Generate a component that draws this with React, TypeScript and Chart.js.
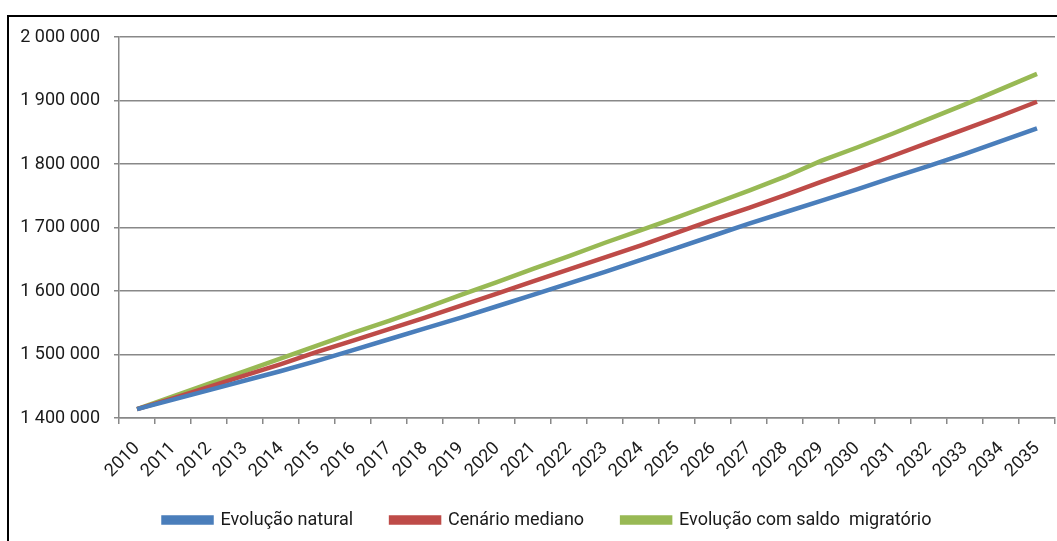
import React, { useEffect, useRef } from 'react';
import { Chart, registerables } from 'chart.js';

Chart.register(...registerables);

const years = [
  '2010', '2011', '2012', '2013', '2014', '2015', '2016', '2017', '2018', '2019',
  '2020', '2021', '2022', '2023', '2024', '2025', '2026', '2027', '2028', '2029',
  '2030', '2031', '2032', '2033', '2034', '2035',
];

const evolucaoNatural = [
  1414000, 1429000, 1444000, 1459000, 1474000, 1490000, 1507000, 1524000, 1541000, 1558000,
  1576000, 1594000, 1612000, 1630000, 1649000, 1668000, 1687000, 1706000, 1724000, 1742000,
  1760000, 1779000, 1797000, 1816000, 1836000, 1856000,
];

const cenarioMediano = [
  1414000, 1431000, 1449000, 1467000, 1485000, 1504000, 1522000, 1540000, 1558000, 1577000,
  1596000, 1615000, 1634000, 1653000, 1672000, 1692000, 1712000, 1731000, 1751000, 1772000,
  1792000, 1813000, 1834000, 1855000, 1876000, 1898000,
];

const evolucaoSaldoMigratorio = [
  1414000, 1434000, 1454000, 1474000, 1494000, 1514000, 1534000, 1553000, 1573000, 1594000,
  1614000, 1635000, 1655000, 1676000, 1696000, 1716000, 1737000, 1758000, 1780000, 1805000,
  1826000, 1848000, 1871000, 1894000, 1918000, 1942000,
];

const seriesNames = ['Evolução natural', 'Cenário mediano', 'Evolução com saldo  migratório'];
const seriesColors = ['#4A7EBB', '#BE4B48', '#98B954'];

const yMin = 1400000;
const yMax = 2000000;
const yStep = 100000;

const FONT = "Roboto, 'Liberation Sans', sans-serif";

function fmt(v: number): string {
  return Math.round(v).toString().replace(/\B(?=(\d{3})+(?!\d))/g, ' ');
}

const layoutTweak = {
  id: 'layoutTweak',
  afterLayout(chart: any) {
    if (chart.legend) chart.legend.left += 40;
    const x = chart.scales.x;
    if (x) {
      x.bottom += 30;
      x.height += 30;
    }
  },
};

export default function App() {
  const ref = useRef<HTMLCanvasElement | null>(null);

  useEffect(() => {
    document.body.style.margin = '0';
    const canvas = ref.current;
    if (!canvas) return;
    const data = [evolucaoNatural, cenarioMediano, evolucaoSaldoMigratorio];
    const chart = new Chart(canvas, {
      type: 'line',
      data: {
        labels: years,
        datasets: data.map((d, i) => ({
          label: seriesNames[i],
          data: d,
          borderColor: seriesColors[i],
          backgroundColor: seriesColors[i],
          borderWidth: 4.5,
          pointRadius: 0,
          tension: 0,
          fill: false,
        })),
      },
      plugins: [layoutTweak],
      options: {
        responsive: false,
        animation: false,
        devicePixelRatio: 1,
        layout: { padding: { left: 0, top: 37, right: 2, bottom: 2 } },
        plugins: {
          tooltip: { enabled: false },
          legend: {
            position: 'bottom',
            labels: {
              boxWidth: 48,
              boxHeight: 5,
              padding: 38,
              color: '#1a1a1a',
              font: { family: FONT, size: 18 },
            },
          },
        },
        scales: {
          x: {
            offset: true,
            clip: false,
            afterFit: (s: any) => { s.height = 55; s.paddingRight = 0; s.paddingLeft = 0; },
            grid: {
              offset: true,
              drawOnChartArea: false,
              drawTicks: true,
              tickLength: 6,
              color: '#888',
              lineWidth: 1.5,
            },
            border: { display: true, color: '#888', width: 1.5 },
            ticks: {
              autoSkip: false,
              maxRotation: 45,
              minRotation: 45,
              padding: 14,
              color: '#1a1a1a',
              font: { family: FONT, size: 18 },
            },
          },
          y: {
            min: yMin,
            max: yMax,
            afterFit: (s: any) => { s.width = 119; },
            grid: {
              color: '#888',
              lineWidth: 1.5,
              drawTicks: true,
              tickLength: 5,
            },
            border: { display: true, color: '#888', width: 1.5 },
            ticks: {
              stepSize: yStep,
              padding: 14,
              color: '#1a1a1a',
              font: { family: FONT, size: 18 },
              callback: (v: any) => fmt(Number(v)),
            },
          },
        },
      },
    });
    return () => chart.destroy();
  }, []);

  return (
    <div style={{ position: 'fixed', left: 0, top: 0, width: 1057, height: 541, overflow: 'hidden', background: '#fff' }}>
      <div
        style={{
          position: 'absolute', left: 7, top: 15, width: 1200, height: 700,
          borderLeft: '2px solid #000', borderTop: '2px solid #000',
        }}
      />
      <canvas ref={ref} width={1057} height={541} style={{ position: 'absolute', left: 0, top: 0 }} />
    </div>
  );
}
